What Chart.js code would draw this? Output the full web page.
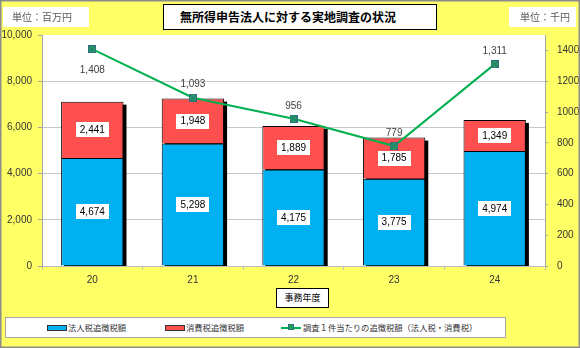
<!DOCTYPE html>
<html><head><meta charset="utf-8">
<script src="https://cdn.jsdelivr.net/npm/chart.js@4/dist/chart.umd.min.js"></script>
<style>
html,body{margin:0;padding:0;background:#FFFF66;}
#wrap{position:relative;width:580px;height:348px;overflow:hidden;}
#c{position:absolute;left:0;top:0;}
.box{position:absolute;background:#fff;box-sizing:border-box;font-family:"Noto Sans CJK JP",sans-serif;white-space:nowrap;}
#title{left:163px;top:4px;width:274px;height:26px;border:1px solid #000;font-weight:bold;font-size:12px;line-height:24px;padding-left:16px;color:#000;}
#unitL{left:3px;top:7px;width:86px;height:20px;font-size:10px;line-height:20px;padding-left:9px;color:#595959;}
#unitR{left:509px;top:7px;width:67px;height:20px;font-size:10px;line-height:20px;padding-left:11px;color:#595959;}
#xt{left:276px;top:288px;width:53px;height:20px;border:1px solid #000;font-size:9px;line-height:18px;text-align:center;color:#000;}
#legend{left:5px;top:317px;width:501px;height:21px;border:1px solid #A6A6A6;font-size:8.3px;line-height:19px;color:#333;}
.item{position:absolute;top:0;height:19px;display:flex;align-items:center;}
.sw{width:18px;height:4px;border:1px solid #333;margin-right:1px;}
.ln{position:relative;width:20px;height:2px;margin-right:2px;}
.ln span{position:absolute;left:7px;top:-3px;width:6px;height:6px;box-sizing:border-box;}
</style></head>
<body>
<div id="wrap">
<canvas id="c" width="580" height="348"></canvas>
<div class="box" id="title"></div>
<div class="box" id="unitL"></div>
<div class="box" id="unitR"></div>
<div class="box" id="xt"></div>
<div class="box" id="legend"></div>
</div>
<script>
// ---- data ----
const years = ['20', '21', '22', '23', '24'];
const corporateTax = [4674, 5298, 4175, 3775, 4974];
const consumptionTax = [2441, 1948, 1889, 1785, 1349];
const perCaseAmount = [1408, 1093, 956, 779, 1311];
const seriesNames = ['法人税追徴税額', '消費税追徴税額', '調査１件当たりの追徴税額（法人税・消費税）'];
const chartTitle = '無所得申告法人に対する実地調査の状況';
const leftUnit = '単位：百万円';
const rightUnit = '単位：千円';
const xAxisTitle = '事務年度';
const leftAxisRange = [0, 10000, 2000];
const rightAxisRange = [0, 1500, 200, 1400];

const colors = ['#00B0F0', '#FF5050', '#00B050'];
const legendItemLeft = [41, 159, 275];

document.getElementById('title').textContent = chartTitle;
document.getElementById('unitL').textContent = leftUnit;
document.getElementById('unitR').textContent = rightUnit;
document.getElementById('xt').textContent = xAxisTitle;

// legend
const lg = document.getElementById('legend');
seriesNames.forEach((n, i) => {
  const it = document.createElement('div'); it.className = 'item';
  it.style.left = legendItemLeft[i] + 'px';
  let sw;
  if (i < 2) { sw = document.createElement('div'); sw.className = 'sw'; sw.style.background = colors[i]; }
  else {
    sw = document.createElement('div'); sw.className = 'ln'; sw.style.background = colors[i];
    const m = document.createElement('span'); m.style.background = '#1DA35A'; m.style.border = '1px solid #2F6F7F'; sw.appendChild(m);
  }
  const t = document.createElement('span'); t.textContent = n;
  it.appendChild(sw); it.appendChild(t); lg.appendChild(it);
});

function makeMarker() {
  const c = document.createElement('canvas'); c.width = 8; c.height = 8;
  const g = c.getContext('2d');
  g.fillStyle = '#1DA35A'; g.fillRect(0, 0, 8, 8);
  g.strokeStyle = '#2F6F7F'; g.lineWidth = 1;
  g.strokeRect(0.5, 0.5, 7, 7);
  g.beginPath(); g.moveTo(1, 1); g.lineTo(7, 7); g.moveTo(7, 1); g.lineTo(1, 7); g.stroke();
  return c;
}
const marker = makeMarker();

const fmt = v => v.toLocaleString('en-US');

const decor = {
  id: 'decor',
  beforeDraw(chart) {
    const { ctx, chartArea: a } = chart;
    ctx.save();
    ctx.fillStyle = '#FFFF66'; ctx.fillRect(0, 0, chart.width, chart.height);
    ctx.fillStyle = '#FFFFFF'; ctx.fillRect(a.left, a.top, a.right - a.left, a.bottom - a.top);
    ctx.restore();
  },
  beforeDatasetsDraw(chart) {
    const { ctx, chartArea: a } = chart;
    const m0 = chart.getDatasetMeta(0).data, m1 = chart.getDatasetMeta(1).data;
    ctx.save();
    ctx.beginPath(); ctx.rect(a.left, a.top, a.right - a.left, a.bottom - a.top); ctx.clip();
    ctx.fillStyle = '#000';
    m0.forEach((el, i) => {
      const w = el.width, top = m1[i].y, base = el.base;
      ctx.fillRect(el.x - w / 2 + 3, top + 3, w, base - top);
    });
    ctx.restore();
  },
  afterDatasetsDraw(chart) {
    const { ctx } = chart;
    ctx.save();
    ctx.font = '10px "Liberation Sans", Arial, sans-serif';
    ctx.textAlign = 'center'; ctx.textBaseline = 'middle';
    [0, 1].forEach(d => {
      const ds = chart.data.datasets[d];
      chart.getDatasetMeta(d).data.forEach((el, i) => {
        const txt = fmt(ds.data[i]);
        const cy = (el.y + el.base) / 2;
        const tw = ctx.measureText(txt).width;
        ctx.fillStyle = '#fff';
        ctx.fillRect(Math.round(el.x - tw / 2 - 4), Math.round(cy - 7.5), Math.round(tw + 8), 15);
        ctx.fillStyle = '#000';
        ctx.fillText(txt, el.x, cy + 0.5);
      });
    });
    const ds2 = chart.data.datasets[2];
    ctx.fillStyle = '#404040';
    chart.getDatasetMeta(2).data.forEach((el, i) => {
      const off = i === 0 ? 21 : -13;
      ctx.fillText(fmt(ds2.data[i]), el.x, el.y + off);
    });
    ctx.restore();
  },
  afterDraw(chart) {
    const { ctx } = chart;
    ctx.save();
    ctx.strokeStyle = '#8C8C8C'; ctx.lineWidth = 1.5;
    ctx.strokeRect(0.75, 0.75, chart.width - 1.5, chart.height - 1.5);
    ctx.restore();
  }
};

const tickFont = { family: '"Liberation Sans", Arial, sans-serif', size: 10 };

new Chart(document.getElementById('c'), {
  data: {
    labels: years,
    datasets: [
      { type: 'bar', label: seriesNames[0], data: corporateTax, backgroundColor: colors[0], borderColor: '#000', borderWidth: 1, stack: 's', yAxisID: 'y', order: 2, barPercentage: 0.62, categoryPercentage: 1 },
      { type: 'bar', label: seriesNames[1], data: consumptionTax, backgroundColor: colors[1], borderColor: '#000', borderWidth: 1, stack: 's', yAxisID: 'y', order: 2, barPercentage: 0.62, categoryPercentage: 1 },
      { type: 'line', label: seriesNames[2], data: perCaseAmount, borderColor: colors[2], borderWidth: 2, tension: 0, yAxisID: 'y2', order: 1, pointStyle: marker, pointRadius: 4, pointHoverRadius: 4 }
    ]
  },
  options: {
    responsive: false, animation: false, devicePixelRatio: 1,
    layout: { padding: { top: 35, left: 0, right: 0, bottom: 0 } },
    plugins: { legend: { display: false }, title: { display: false }, tooltip: { enabled: false } },
    scales: {
      x: {
        stacked: true, offset: true,
        grid: { offset: true, drawOnChartArea: false, drawTicks: true, tickLength: 4, color: '#BFBFBF' },
        border: { color: '#BFBFBF' },
        ticks: { font: tickFont, color: '#333', padding: 4 },
        afterFit(s) { s.height = 82; }
      },
      y: {
        stacked: true, position: 'left', min: leftAxisRange[0], max: leftAxisRange[1],
        ticks: { stepSize: leftAxisRange[2], font: tickFont, color: '#333', padding: 6, callback: v => fmt(v) },
        grid: { color: ctx => ctx.tick && ctx.tick.value === leftAxisRange[1] ? 'rgba(0,0,0,0)' : '#C8C8C8', tickColor: '#A6A6A6', tickLength: 4 },
        border: { color: '#A6A6A6' },
        afterFit(s) { s.width = 42; }
      },
      y2: {
        position: 'right', min: rightAxisRange[0], max: rightAxisRange[1],
        ticks: { stepSize: rightAxisRange[2], font: tickFont, color: '#333', padding: 9, callback: v => String(v) },
        afterBuildTicks(s) { s.ticks = s.ticks.filter(t => t.value <= rightAxisRange[3]); },
        grid: { drawOnChartArea: false, tickLength: 3, color: '#A6A6A6' },
        border: { color: '#A6A6A6', dash: [2, 1] },
        afterFit(s) { s.width = 35; }
      }
    }
  },
  plugins: [decor]
});
</script>
</body></html>
